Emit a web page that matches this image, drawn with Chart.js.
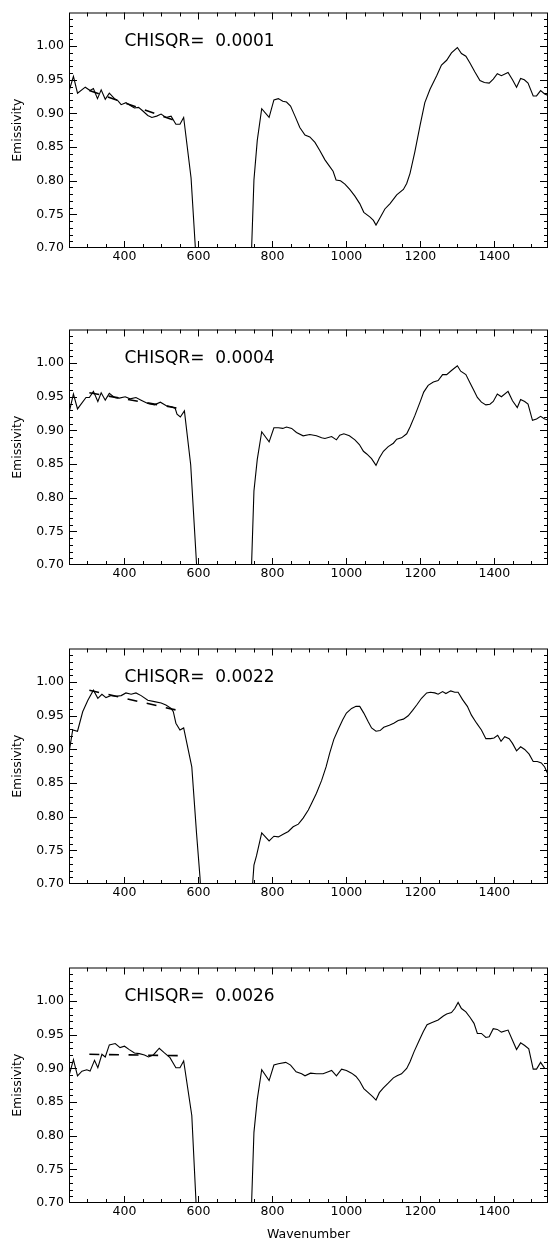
<!DOCTYPE html>
<html>
<head>
<meta charset="utf-8">
<script src="https://cdn.jsdelivr.net/npm/chart.js@4.4.1/dist/chart.umd.min.js"></script>
<style>
  html, body { margin: 0; padding: 0; background: #fff; }
  #wrap { position: relative; width: 549px; height: 1242px; }
  #wrap canvas { position: absolute; left: 0; }
</style>
</head>
<body>
<div id="wrap"></div>
<script>
// wavenumber / emissivity (null = band gap, clipped below axis)
const wave1 = [250, 262, 273, 294, 307, 316, 327, 337, 348, 359, 373, 382, 391, 404, 418, 427, 438, 449, 463, 474,
  487, 499, 512, 526, 539, 550, 560, 580, 591, 600, 670, 740, 750, 759, 771, 791, 804, 816, 828, 838,
  849, 861, 874, 888, 901, 915, 928, 942, 955, 964, 972, 984, 996, 1009, 1023, 1036, 1047, 1064, 1073, 1080,
  1091, 1104, 1118, 1136, 1154, 1163, 1172, 1185, 1199, 1212, 1226, 1244, 1257, 1271, 1284, 1300, 1311, 1323, 1334, 1347,
  1361, 1373, 1386, 1397, 1408, 1419, 1437, 1449, 1460, 1471, 1481, 1491, 1505, 1514, 1525, 1536, 1548];
const emis1 = [0.933, 0.955, 0.930, 0.939, 0.934, 0.937, 0.922, 0.935, 0.921, 0.930, 0.922, 0.919, 0.913, 0.916, 0.911, 0.908, 0.909, 0.904, 0.897, 0.894,
  0.896, 0.899, 0.894, 0.896, 0.884, 0.884, 0.894, 0.804, 0.706, 0.610, null, 0.640, 0.801, 0.860, 0.907, 0.894, 0.920, 0.922, 0.918, 0.917,
  0.911, 0.896, 0.879, 0.868, 0.865, 0.857, 0.845, 0.831, 0.821, 0.814, 0.801, 0.800, 0.795, 0.787, 0.777, 0.766, 0.753, 0.746, 0.741, 0.734,
  0.745, 0.758, 0.766, 0.779, 0.787, 0.796, 0.811, 0.843, 0.882, 0.916, 0.936, 0.956, 0.972, 0.979, 0.990, 0.998, 0.989, 0.985, 0.975, 0.962,
  0.949, 0.946, 0.945, 0.951, 0.959, 0.956, 0.961, 0.950, 0.939, 0.952, 0.950, 0.945, 0.926, 0.926, 0.934, 0.929, 0.926];

const wave2 = [250, 262, 273, 296, 305, 316, 328, 337, 348, 359, 373, 386, 402, 415, 431, 445, 463, 481, 497, 512,
  528, 537, 542, 551, 562, 579, 595, 605, 670, 740, 750, 759, 771, 791, 804, 816, 828, 838, 852, 865,
  883, 901, 919, 933, 942, 960, 973, 982, 993, 1008, 1023, 1035, 1046, 1055, 1068, 1080, 1089, 1100, 1113, 1127,
  1136, 1149, 1163, 1172, 1185, 1199, 1209, 1221, 1235, 1248, 1260, 1271, 1284, 1300, 1309, 1323, 1334, 1345, 1354, 1365,
  1377, 1388, 1397, 1408, 1419, 1437, 1449, 1462, 1471, 1482, 1491, 1503, 1514, 1525, 1536, 1548];
const emis2 = [0.926, 0.954, 0.932, 0.949, 0.949, 0.958, 0.943, 0.956, 0.945, 0.955, 0.949, 0.948, 0.950, 0.947, 0.949, 0.945, 0.940, 0.938, 0.942, 0.937,
  0.935, 0.933, 0.924, 0.920, 0.929, 0.849, 0.700, 0.600, null, 0.640, 0.810, 0.857, 0.898, 0.883, 0.904, 0.904, 0.903, 0.905, 0.903, 0.897,
  0.892, 0.894, 0.892, 0.889, 0.888, 0.891, 0.886, 0.893, 0.895, 0.892, 0.886, 0.879, 0.869, 0.865, 0.858, 0.848, 0.859, 0.869, 0.876, 0.881,
  0.887, 0.889, 0.895, 0.905, 0.922, 0.942, 0.957, 0.967, 0.972, 0.974, 0.983, 0.983, 0.989, 0.996, 0.988, 0.983, 0.971, 0.959, 0.949, 0.942,
  0.938, 0.939, 0.943, 0.954, 0.950, 0.958, 0.944, 0.934, 0.946, 0.943, 0.939, 0.915, 0.917, 0.921, 0.917, 0.915];

const wave3 = [250, 260, 273, 287, 301, 316, 328, 339, 350, 364, 377, 391, 404, 418, 431, 445, 463, 481, 499, 512,
  526, 532, 539, 550, 560, 582, 595, 604, 612, 680, 740, 750, 757, 771, 791, 804, 816, 829, 843, 856,
  870, 883, 897, 906, 919, 933, 945, 955, 966, 978, 990, 1000, 1014, 1026, 1036, 1047, 1059, 1068, 1080, 1091,
  1101, 1116, 1128, 1140, 1154, 1167, 1179, 1190, 1203, 1217, 1227, 1239, 1248, 1260, 1269, 1282, 1293, 1302, 1314, 1327,
  1338, 1352, 1365, 1377, 1390, 1399, 1409, 1418, 1428, 1440, 1449, 1460, 1471, 1482, 1494, 1505, 1516, 1527, 1536, 1548];
const emis3 = [0.895, 0.929, 0.927, 0.956, 0.973, 0.988, 0.976, 0.982, 0.977, 0.980, 0.979, 0.980, 0.984, 0.982, 0.984, 0.980, 0.973, 0.971, 0.969, 0.966,
  0.961, 0.956, 0.939, 0.929, 0.932, 0.874, 0.774, 0.711, 0.640, null, 0.650, 0.728, 0.742, 0.776, 0.764, 0.771, 0.770, 0.774, 0.778, 0.785,
  0.789, 0.798, 0.810, 0.820, 0.835, 0.854, 0.874, 0.895, 0.915, 0.930, 0.944, 0.954, 0.961, 0.964, 0.964, 0.954, 0.941, 0.932, 0.927, 0.928,
  0.933, 0.936, 0.939, 0.943, 0.945, 0.950, 0.958, 0.966, 0.976, 0.984, 0.985, 0.984, 0.982, 0.986, 0.983, 0.987, 0.985, 0.985, 0.974, 0.964,
  0.951, 0.939, 0.929, 0.916, 0.916, 0.917, 0.921, 0.912, 0.919, 0.916, 0.909, 0.898, 0.904, 0.900, 0.893, 0.882, 0.882, 0.880, 0.874, 0.859];

const wave4 = [250, 262, 273, 285, 298, 307, 319, 328, 339, 348, 359, 375, 388, 400, 413, 427, 440, 454, 465, 478,
  494, 508, 523, 539, 550, 560, 582, 593, 600, 670, 740, 750, 759, 771, 791, 804, 816, 836, 849, 864,
  879, 888, 903, 919, 937, 951, 960, 973, 987, 1000, 1014, 1026, 1036, 1047, 1059, 1071, 1080, 1089, 1100, 1113,
  1127, 1137, 1149, 1163, 1172, 1183, 1197, 1208, 1218, 1230, 1248, 1262, 1271, 1284, 1293, 1302, 1311, 1323, 1334, 1345,
  1354, 1365, 1377, 1386, 1397, 1408, 1419, 1437, 1449, 1460, 1471, 1482, 1493, 1505, 1514, 1525, 1536, 1548];
const emis4 = [0.889, 0.913, 0.889, 0.896, 0.898, 0.896, 0.912, 0.901, 0.921, 0.917, 0.935, 0.937, 0.931, 0.933, 0.928, 0.923, 0.922, 0.920, 0.917, 0.920,
  0.930, 0.923, 0.916, 0.901, 0.901, 0.911, 0.830, 0.706, 0.620, null, 0.640, 0.805, 0.854, 0.898, 0.882, 0.905, 0.907, 0.909, 0.905, 0.895,
  0.892, 0.889, 0.893, 0.892, 0.892, 0.895, 0.897, 0.889, 0.899, 0.897, 0.893, 0.888, 0.881, 0.870, 0.864, 0.858, 0.853, 0.864, 0.871, 0.878,
  0.886, 0.889, 0.892, 0.900, 0.910, 0.925, 0.942, 0.955, 0.965, 0.968, 0.972, 0.978, 0.981, 0.983, 0.989, 0.998, 0.989, 0.984, 0.976, 0.967,
  0.952, 0.952, 0.946, 0.947, 0.959, 0.958, 0.954, 0.957, 0.942, 0.928, 0.938, 0.934, 0.929, 0.899, 0.899, 0.909, 0.900, 0.900];

// dashed fitted lines over the 305-544 range
const fitWave = [305, 544];
const fit1 = [0.934, 0.888];
const fit2 = [0.956, 0.933];
const fit3 = [0.988, 0.958];
const fit4 = [0.921, 0.919];

const chisqr = ['0.0001', '0.0004', '0.0022', '0.0026'];

const xLabels = [400, 600, 800, 1000, 1200, 1400];
const yLabels = [0.70, 0.75, 0.80, 0.85, 0.90, 0.95, 1.00];

const panels = [
  { wave: wave1, emis: emis1, fit: fit1, top: 8 },
  { wave: wave2, emis: emis2, fit: fit2, top: 325 },
  { wave: wave3, emis: emis3, fit: fit3, top: 644 },
  { wave: wave4, emis: emis4, fit: fit4, top: 963 }
];

Chart.defaults.font.family = "'DejaVu Sans', sans-serif";
Chart.defaults.color = '#000';

const PLOT_H = 240;

// IDL style box with inward ticks on all four sides + CHISQR note
const idlFrame = {
    id: 'idlFrame',
    afterDatasetsDraw(chart, args, opts) {
        const { ctx, chartArea: a } = chart;
        const xs = chart.scales.x, ys = chart.scales.y;
        ctx.save();
        ctx.strokeStyle = '#000';
        ctx.lineWidth = 1;
        ctx.strokeRect(a.left + 0.5, a.top + 0.5, a.right - a.left - 1, a.bottom - a.top - 1);
        ctx.beginPath();
        for (let v = 300; v < xs.max; v += 50) {
            const px = Math.round(xs.getPixelForValue(v)) + 0.5;
            const len = v % 200 === 0 ? 7 : 4;
            ctx.moveTo(px, a.bottom); ctx.lineTo(px, a.bottom - len);
            ctx.moveTo(px, a.top); ctx.lineTo(px, a.top + len);
        }
        for (let k = 71; k < 105; k++) {
            const py = Math.round(ys.getPixelForValue(k / 100)) + 0.5;
            const len = k % 5 === 0 ? 8 : 4;
            ctx.moveTo(a.left, py); ctx.lineTo(a.left + len, py);
            ctx.moveTo(a.right, py); ctx.lineTo(a.right - len, py);
        }
        ctx.stroke();
        ctx.fillStyle = '#000';
        ctx.font = "17px 'DejaVu Sans'";
        ctx.textBaseline = 'alphabetic';
        ctx.fillText('CHISQR=  ' + opts.chi, xs.getPixelForValue(400), ys.getPixelForValue(1.0));
        ctx.restore();
    }
};

function makePanel(p, i) {
    const last = i === panels.length - 1;
    const canvas = document.createElement('canvas');
    const h = last ? 1242 - (p.top - 8) : 270;
    canvas.width = 549;
    canvas.height = h;
    canvas.style.top = (p.top - 8) + 'px';
    document.getElementById('wrap').appendChild(canvas);

    new Chart(canvas.getContext('2d'), {
        type: 'line',
        data: {
            datasets: [
                {
                    data: p.wave.map((w, j) => ({ x: w, y: p.emis[j] })),
                    borderColor: '#000',
                    borderWidth: 1.1,
                    pointRadius: 0,
                    tension: 0,
                    spanGaps: false
                },
                {
                    data: fitWave.map((w, j) => ({ x: w, y: p.fit[j] })),
                    borderColor: '#000',
                    borderWidth: 1.6,
                    borderDash: [10, 9.6],
                    pointRadius: 0
                }
            ]
        },
        options: {
            responsive: false,
            animation: false,
            layout: { padding: { top: 8, right: 1, left: 0, bottom: 0 } },
            plugins: {
                legend: { display: false },
                tooltip: { enabled: false },
                idlFrame: { chi: chisqr[i] }
            },
            scales: {
                x: {
                    type: 'linear',
                    min: 250,
                    max: 1545,
                    afterBuildTicks: s => { s.ticks = xLabels.map(v => ({ value: v })); },
                    afterFit: s => { s.height = h - 8 - PLOT_H; },
                    grid: { display: false, drawTicks: false },
                    border: { display: false },
                    ticks: {
                        padding: 1,
                        maxRotation: 0,
                        autoSkip: false,
                        font: { size: 12.5 },
                        callback: v => String(v)
                    },
                    title: {
                        display: last,
                        text: 'Wavenumber',
                        font: { size: 12.5 },
                        padding: { top: 0, bottom: 0 }
                    }
                },
                y: {
                    min: 0.70,
                    max: 1.05,
                    afterBuildTicks: s => { s.ticks = yLabels.map(v => ({ value: v })); },
                    afterFit: s => { s.width = 69; },
                    grid: { display: false, drawTicks: false },
                    border: { display: false },
                    ticks: {
                        padding: 5,
                        autoSkip: false,
                        font: { size: 12.5 },
                        callback: v => v.toFixed(2)
                    },
                    title: {
                        display: true,
                        text: 'Emissivity',
                        font: { size: 12.5 },
                        padding: { top: 10.5, bottom: 0 }
                    }
                }
            }
        },
        plugins: [idlFrame]
    });
}

panels.forEach(makePanel);
</script>
</body>
</html>
